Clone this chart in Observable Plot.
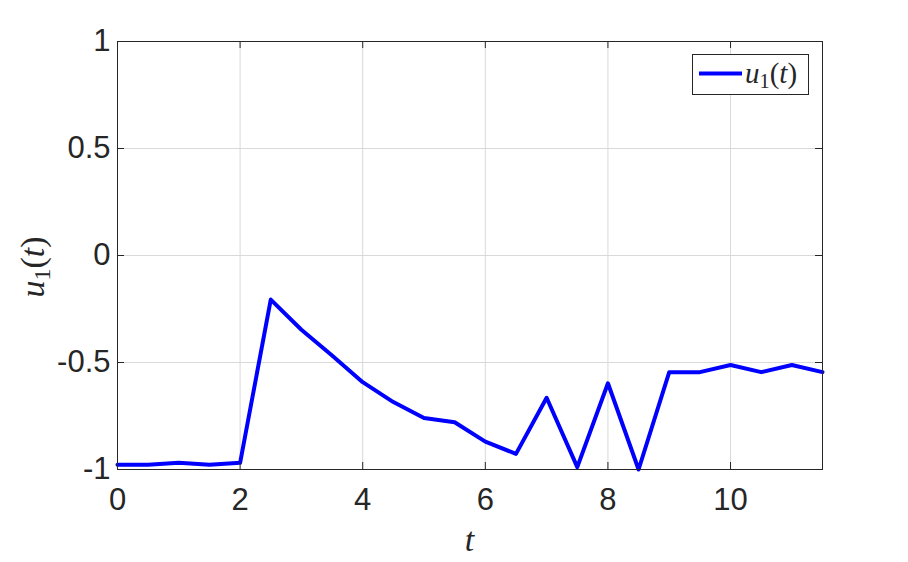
<!DOCTYPE html>
<html>
<head>
<meta charset="utf-8">
<script src="https://cdn.jsdelivr.net/npm/d3@7"></script>
<script src="https://cdn.jsdelivr.net/npm/@observablehq/plot@0.6"></script>
<style>
  html, body { margin: 0; padding: 0; background: #fff; }
</style>
</head>
<body>
<div id="chart"></div>
<script>
const t = [0, 0.5, 1, 1.5, 2, 2.5, 3, 3.5, 4, 4.5, 5, 5.5, 6, 6.5, 7, 7.5, 8, 8.5, 9, 9.5, 10, 10.5, 11, 11.5];
const u1 = [-0.978, -0.978, -0.969, -0.978, -0.969, -0.206, -0.347, -0.467, -0.592, -0.685, -0.759, -0.779, -0.87, -0.927, -0.665, -0.989, -0.597, -1.0, -0.545, -0.545, -0.512, -0.545, -0.512, -0.545];
const xTicks = [0, 2, 4, 6, 8, 10];
const yTicks = [-1, -0.5, 0, 0.5, 1];
const xLabel = "t";
const seriesName = "u1(t)";

const data = t.map((v, i) => ({t: v, u: u1[i]}));
const W = 908, H = 562, mL = 117, mR = 86, mT = 41, mB = 93;
const axisColor = "#262626";
const tickLen = 7;
const plotH = H - mT - mB, plotW = W - mL - mR;

const chart = Plot.plot({
  width: W, height: H,
  marginLeft: mL, marginRight: mR, marginTop: mT, marginBottom: mB,
  style: {fontFamily: "'Liberation Sans', Arial, sans-serif", fontSize: "31px", color: axisColor, background: "#fff"},
  x: {domain: [0, 11.5]},
  y: {domain: [-1, 1]},
  marks: [
    Plot.gridX(xTicks, {stroke: "#d9d9d9", strokeOpacity: 1}),
    Plot.gridY(yTicks, {stroke: "#d9d9d9", strokeOpacity: 1}),
    Plot.line(data, {x: "t", y: "u", stroke: "#0000ff", strokeWidth: 4}),
    Plot.ruleX(xTicks, {stroke: axisColor, insetTop: plotH - tickLen}),
    Plot.ruleX(xTicks, {stroke: axisColor, insetBottom: plotH - tickLen}),
    Plot.ruleY(yTicks, {stroke: axisColor, insetRight: plotW - tickLen}),
    Plot.ruleY(yTicks, {stroke: axisColor, insetLeft: plotW - tickLen}),
    Plot.frame({stroke: axisColor, strokeWidth: 1}),
    Plot.axisX(xTicks, {tickSize: 0, tickPadding: 12, dy: 6, label: null, fontSize: 31, tickFormat: d => String(d), fill: axisColor}),
    Plot.axisY(yTicks, {tickSize: 0, tickPadding: 7, label: null, fontSize: 31, tickFormat: d => String(d), fill: axisColor})
  ]
});
document.getElementById("chart").appendChild(chart);

const svg = d3.select(chart);
const serif = "'Liberation Serif', 'DejaVu Serif', serif";
const xs = chart.scale("x"), ys = chart.scale("y");

// x label
svg.append("text")
  .attr("x", (xs.apply(0) + xs.apply(11.5)) / 2)
  .attr("y", 551)
  .attr("text-anchor", "middle")
  .attr("font-family", serif).attr("font-style", "italic").attr("font-size", 34)
  .attr("fill", axisColor)
  .text(xLabel);

function mathLabel(sel, size) {
  sel.attr("font-family", serif).attr("font-size", size).attr("fill", axisColor);
  sel.append("tspan").attr("font-style", "italic").text("u");
  sel.append("tspan").attr("font-size", size * 0.7).attr("dy", size * 0.18).text("1");
  sel.append("tspan").attr("dy", -size * 0.18).text("(");
  sel.append("tspan").attr("font-style", "italic").text("t");
  sel.append("tspan").text(")");
  sel.append("title").text(seriesName);
}

// y label
const yl = svg.append("text")
  .attr("transform", `translate(44, ${(ys.apply(-1) + ys.apply(1)) / 2 + 12}) rotate(-90)`)
  .attr("text-anchor", "middle");
mathLabel(yl, 34);

// legend
const lg = svg.append("g");
lg.append("rect").attr("x", 692.5).attr("y", 54.5).attr("width", 116).attr("height", 40)
  .attr("fill", "#fff").attr("stroke", axisColor).attr("stroke-width", 1);
lg.append("line").attr("x1", 699).attr("x2", 742).attr("y1", 73.5).attr("y2", 73.5)
  .attr("stroke", "#0000ff").attr("stroke-width", 4);
const lt = lg.append("text").attr("x", 745).attr("y", 83).attr("text-anchor", "start");
mathLabel(lt, 29);
</script>
</body>
</html>
